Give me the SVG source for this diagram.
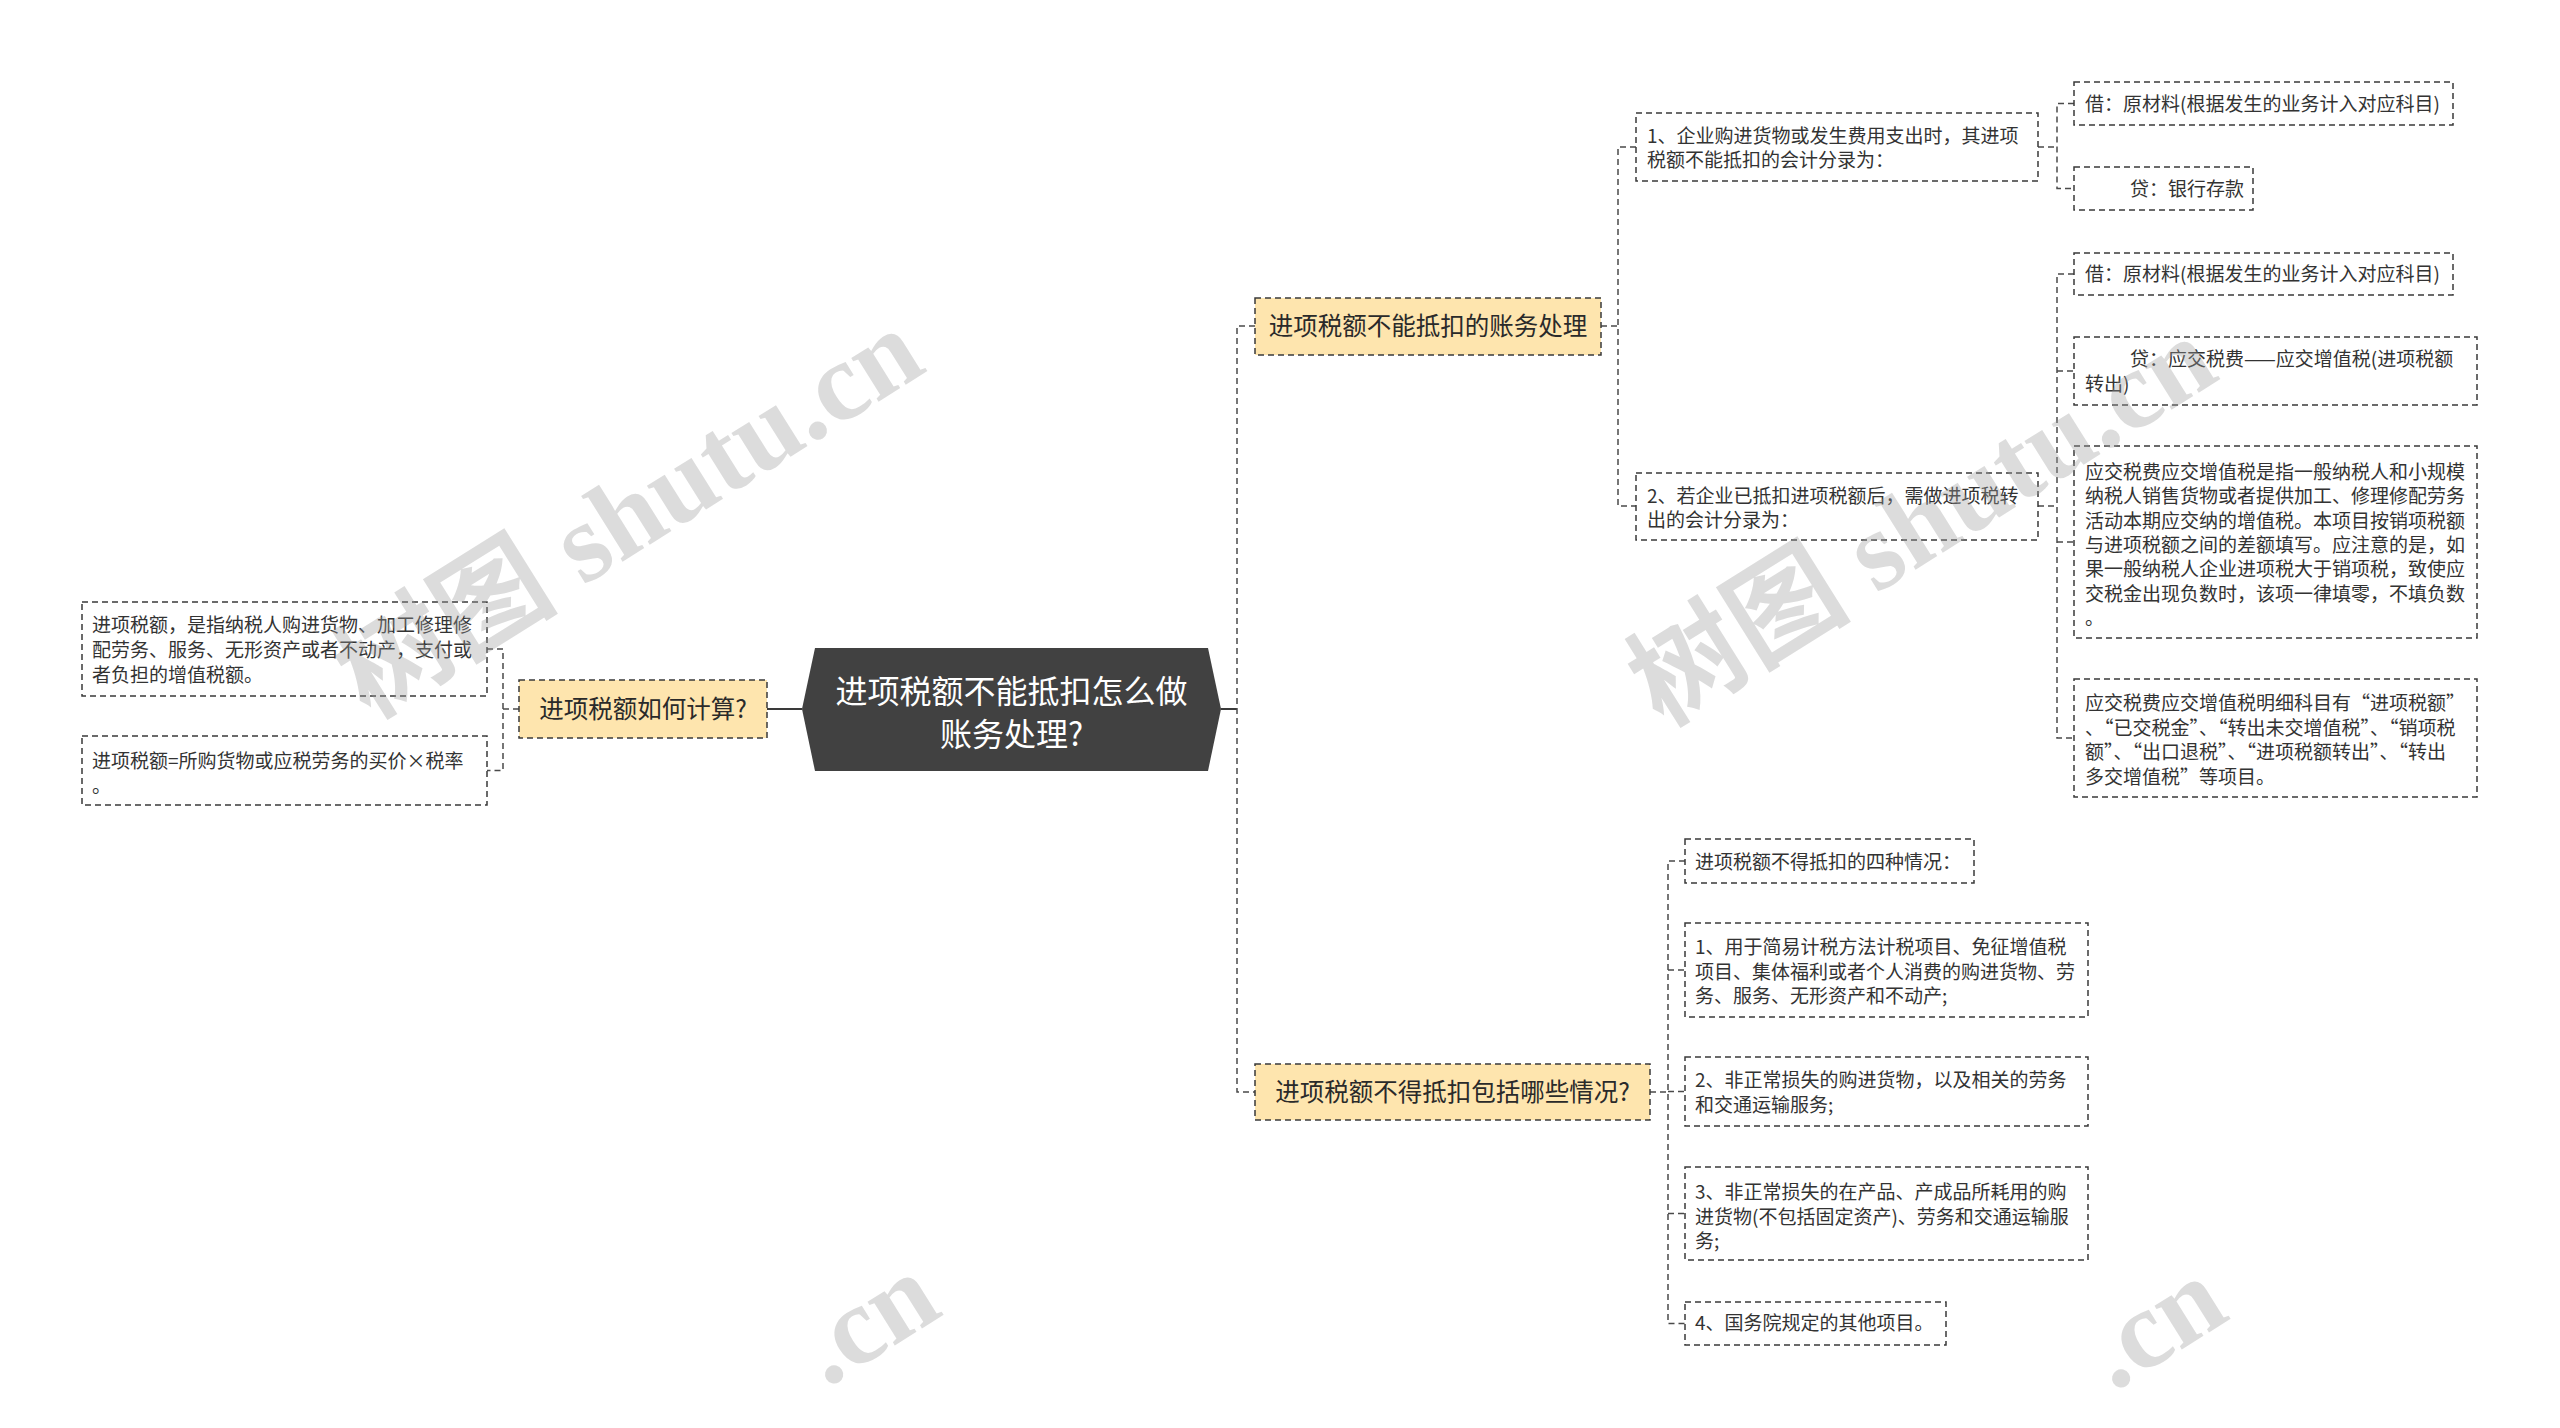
<svg xmlns="http://www.w3.org/2000/svg" width="2560" height="1428" viewBox="0 0 2560 1428">
<style>
.bg{fill:#ffffff}
.leaf{fill:#ffffff;stroke:#3a3a3a;stroke-width:1.5;stroke-dasharray:6 4}
.branch{fill:#FEE5AE;stroke:#3a3a3a;stroke-width:1.5;stroke-dasharray:6 4}
.rootshape{fill:#414141}
.conn{fill:none;stroke:#4a4a4a;stroke-width:1.5;stroke-dasharray:6 4}
.solid{fill:none;stroke:#3a3a3a;stroke-width:2}
.t{font-family:"Noto Sans CJK SC","Noto Sans",sans-serif;font-size:19px;fill:#333333}
.tb{font-family:"Noto Sans CJK SC","Noto Sans",sans-serif;font-size:24.5px;fill:#2a2a2a;text-anchor:middle}
.tr{font-family:"Noto Sans CJK SC","Noto Sans",sans-serif;font-size:32px;fill:#ffffff;text-anchor:middle}
.wm{font-family:"Liberation Serif","Noto Sans CJK SC",serif;font-size:112px;font-weight:bold;fill:#9a9a9a;fill-opacity:0.35;text-anchor:middle}
.wme{text-anchor:end}
</style>
<rect class="bg" x="0" y="0" width="2560" height="1428"/>

<g id="connectors">
  <path class="solid" d="M767,709 H802"/>
  <path class="solid" d="M1221,709 H1237"/>
  <path class="conn" d="M519,709 H503"/>
  <path class="conn" d="M487,649 H503 V770.5 H487"/>
  <path class="conn" d="M1255,326 H1237 V1092 H1255"/>
  <path class="conn" d="M1601,326 H1618"/>
  <path class="conn" d="M1636,147 H1618 V506 H1636"/>
  <path class="conn" d="M2038,147 H2057"/>
  <path class="conn" d="M2074,103.5 H2057 V188.5 H2074"/>
  <path class="conn" d="M2038,506 H2057"/>
  <path class="conn" d="M2074,274 H2057 V738 H2074"/>
  <path class="conn" d="M2057,371 H2074"/>
  <path class="conn" d="M2057,542 H2074"/>
  <path class="conn" d="M1650,1092 H1668"/>
  <path class="conn" d="M1685,861 H1668 V1323.5 H1685"/>
  <path class="conn" d="M1668,970 H1685"/>
  <path class="conn" d="M1668,1091.5 H1685"/>
  <path class="conn" d="M1668,1213.5 H1685"/>
</g>

<g id="root">
  <polygon class="rootshape" points="815,648 1208,648 1221,709 1208,771 815,771 802,709"/>
  <text class="tr"><tspan x="1011.5" y="703">进项税额不能抵扣怎么做</tspan><tspan x="1011.5" y="746">账务处理?</tspan></text>
</g>

<g id="node-calc">
  <rect class="branch" x="519" y="680" width="248" height="58"/>
  <text class="tb" x="643" y="717.5">进项税额如何计算?</text>
</g>
<g id="node-calc-def">
  <rect class="leaf" x="82" y="602" width="405" height="94"/>
  <text class="t"><tspan x="92" y="632">进项税额，是指纳税人购进货物、加工修理修</tspan><tspan x="92" y="657">配劳务、服务、无形资产或者不动产，支付或</tspan><tspan x="92" y="682">者负担的增值税额。</tspan></text>
</g>
<g id="node-calc-formula">
  <rect class="leaf" x="82" y="736" width="405" height="69"/>
  <text class="t"><tspan x="92" y="768">进项税额=所购货物或应税劳务的买价×税率</tspan><tspan x="92" y="793">。</tspan></text>
</g>

<g id="node-accounting">
  <rect class="branch" x="1255" y="298" width="346" height="57"/>
  <text class="tb" x="1428" y="334.5">进项税额不能抵扣的账务处理</text>
</g>
<g id="node-acc-1">
  <rect class="leaf" x="1636" y="113" width="402" height="68"/>
  <text class="t"><tspan x="1647" y="143">1、企业购进货物或发生费用支出时，其进项</tspan><tspan x="1647" y="167">税额不能抵扣的会计分录为：</tspan></text>
</g>
<g id="node-acc-1a">
  <rect class="leaf" x="2074" y="82" width="379" height="43"/>
  <text class="t" x="2085" y="110.5">借：原材料(根据发生的业务计入对应科目)</text>
</g>
<g id="node-acc-1b">
  <rect class="leaf" x="2074" y="167" width="179" height="43"/>
  <text class="t" x="2130" y="195.5">贷：银行存款</text>
</g>
<g id="node-acc-2">
  <rect class="leaf" x="1636" y="473" width="402" height="67"/>
  <text class="t"><tspan x="1647" y="503">2、若企业已抵扣进项税额后，需做进项税转</tspan><tspan x="1647" y="527">出的会计分录为：</tspan></text>
</g>
<g id="node-acc-2a">
  <rect class="leaf" x="2074" y="253" width="379" height="42"/>
  <text class="t" x="2085" y="281">借：原材料(根据发生的业务计入对应科目)</text>
</g>
<g id="node-acc-2b">
  <rect class="leaf" x="2074" y="337" width="403" height="68"/>
  <text class="t"><tspan x="2130" y="366">贷：应交税费——应交增值税(进项税额</tspan><tspan x="2085" y="391">转出)</tspan></text>
</g>
<g id="node-acc-2c">
  <rect class="leaf" x="2074" y="446" width="403" height="192"/>
  <text class="t"><tspan x="2085" y="479">应交税费应交增值税是指一般纳税人和小规模</tspan><tspan x="2085" y="503.3">纳税人销售货物或者提供加工、修理修配劳务</tspan><tspan x="2085" y="527.6">活动本期应交纳的增值税。本项目按销项税额</tspan><tspan x="2085" y="551.9">与进项税额之间的差额填写。应注意的是，如</tspan><tspan x="2085" y="576.2">果一般纳税人企业进项税大于销项税，致使应</tspan><tspan x="2085" y="600.5">交税金出现负数时，该项一律填零，不填负数</tspan><tspan x="2085" y="624.8">。</tspan></text>
</g>
<g id="node-acc-2d">
  <rect class="leaf" x="2074" y="679" width="403" height="118"/>
  <text class="t"><tspan x="2085" y="710">应交税费应交增值税明细科目有“进项税额”</tspan><tspan x="2085" y="734.5">、“已交税金”、“转出未交增值税”、“销项税</tspan><tspan x="2085" y="759">额”、“出口退税”、“进项税额转出”、“转出</tspan><tspan x="2085" y="783.5">多交增值税”等项目。</tspan></text>
</g>

<g id="node-cases">
  <rect class="branch" x="1255" y="1064" width="395" height="56"/>
  <text class="tb" x="1452.5" y="1100.5">进项税额不得抵扣包括哪些情况?</text>
</g>
<g id="node-cases-0">
  <rect class="leaf" x="1685" y="839" width="289" height="44"/>
  <text class="t" x="1695" y="868.5">进项税额不得抵扣的四种情况：</text>
</g>
<g id="node-cases-1">
  <rect class="leaf" x="1685" y="923" width="403" height="94"/>
  <text class="t"><tspan x="1695" y="954">1、用于简易计税方法计税项目、免征增值税</tspan><tspan x="1695" y="978.5">项目、集体福利或者个人消费的购进货物、劳</tspan><tspan x="1695" y="1003">务、服务、无形资产和不动产;</tspan></text>
</g>
<g id="node-cases-2">
  <rect class="leaf" x="1685" y="1057" width="403" height="69"/>
  <text class="t"><tspan x="1695" y="1087">2、非正常损失的购进货物，以及相关的劳务</tspan><tspan x="1695" y="1111.5">和交通运输服务;</tspan></text>
</g>
<g id="node-cases-3">
  <rect class="leaf" x="1685" y="1167" width="403" height="93"/>
  <text class="t"><tspan x="1695" y="1199">3、非正常损失的在产品、产成品所耗用的购</tspan><tspan x="1695" y="1223.5">进货物(不包括固定资产)、劳务和交通运输服</tspan><tspan x="1695" y="1248">务;</tspan></text>
</g>
<g id="node-cases-4">
  <rect class="leaf" x="1685" y="1302" width="261" height="43"/>
  <text class="t" x="1695" y="1330">4、国务院规定的其他项目。</text>
</g>

<g id="watermarks">
  <text class="wm" transform="translate(649,545) rotate(-32)">树图 shutu.cn</text>
  <text class="wm" transform="translate(1942,553) rotate(-32)">树图 shutu.cn</text>
  <text class="wm wme" transform="translate(945,1314) rotate(-32)">.cn</text>
  <text class="wm wme" transform="translate(2232,1318) rotate(-32)">.cn</text>
</g>
</svg>
